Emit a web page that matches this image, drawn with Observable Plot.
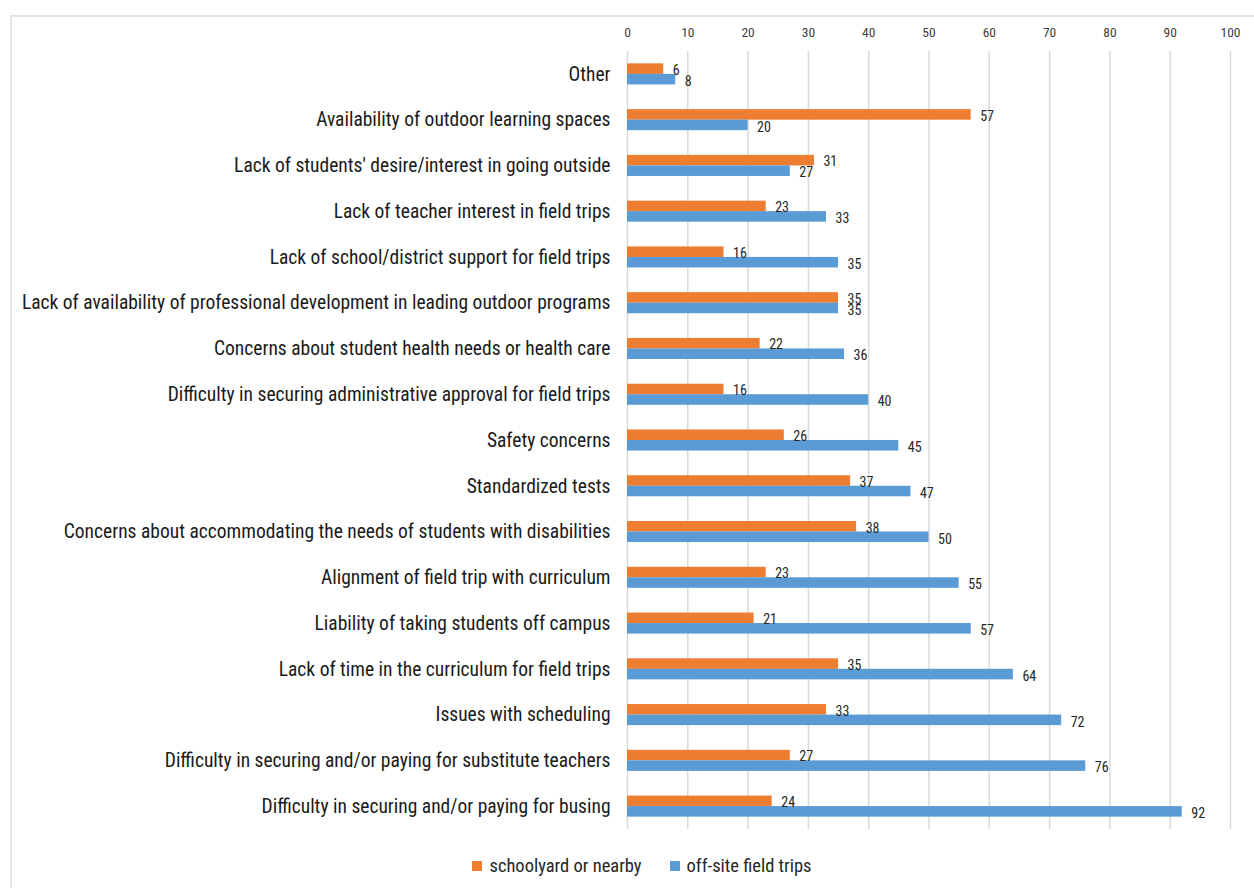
<!DOCTYPE html>
<html>
<head>
<meta charset="utf-8">
<script src="https://cdn.jsdelivr.net/npm/d3@7"></script>
<script src="https://cdn.jsdelivr.net/npm/@observablehq/plot@0.6"></script>
<style>
  html, body { margin: 0; padding: 0; background: #fff; width: 1254px; height: 888px; overflow: hidden; }
  #frame { position: absolute; left: 10px; top: 15px; width: 1300px; height: 900px; border: 2px solid #e3e3e3; box-sizing: border-box; }
  #chart { position: absolute; left: 0; top: 0; }
  #legend { position: absolute; left: 0; top: 855px; width: 1254px; display: flex; justify-content: center; gap: 28px;
            font-family: "Liberation Sans Narrow", "Roboto Condensed", "Liberation Sans", sans-serif; font-size: 18.5px; color: #262626; padding-left: 30px; box-sizing: border-box; }
  .item { display: flex; align-items: center; gap: 7px; }
  .sw { width: 10px; height: 10px; display: inline-block; }
</style>
</head>
<body>
<div id="frame"></div>
<div id="chart"></div>
<div id="legend"></div>
<script>
const categories = [
  "Other",
  "Availability of outdoor learning spaces",
  "Lack of students' desire/interest in going outside",
  "Lack of teacher interest in field trips",
  "Lack of school/district support for field trips",
  "Lack of availability of professional development in leading outdoor programs",
  "Concerns about student health needs or health care",
  "Difficulty in securing administrative approval for field trips",
  "Safety concerns",
  "Standardized tests",
  "Concerns about accommodating the needs of students with disabilities",
  "Alignment of field trip with curriculum",
  "Liability of taking students off campus",
  "Lack of time in the curriculum for field trips",
  "Issues with scheduling",
  "Difficulty in securing and/or paying for substitute teachers",
  "Difficulty in securing and/or paying for busing"
];
const schoolyard = [6, 57, 31, 23, 16, 35, 22, 16, 26, 37, 38, 23, 21, 35, 33, 27, 24];
const offsite    = [8, 20, 27, 33, 35, 35, 36, 40, 45, 47, 50, 55, 57, 64, 72, 76, 92];
const seriesNames = ["schoolyard or nearby", "off-site field trips"];
const colors = ["#ED7D31", "#5B9BD5"];
const xTicks = d3.range(0, 101, 10);

const orange = categories.map((c, i) => ({category: c, value: schoolyard[i]}));
const blue = categories.map((c, i) => ({category: c, value: offsite[i]}));

const font = '"Liberation Sans Narrow", "Roboto Condensed", "Liberation Sans", sans-serif';

const plot = Plot.plot({
  width: 1254,
  height: 840,
  marginLeft: 627,
  marginRight: 24,
  marginTop: 51,
  marginBottom: 11,
  style: {fontFamily: font, background: "transparent"},
  x: {domain: [0, 100]},
  y: {domain: categories, paddingInner: 0.54, paddingOuter: 0.27, round: false},
  marks: [
    Plot.gridX(xTicks, {stroke: "#d9d9d9", strokeOpacity: 1, strokeWidth: 1.5}),
    Plot.axisX(xTicks, {anchor: "top", tickSize: 0, tickPadding: 15, fontSize: 13.5, fill: "#404040", label: null}),
    Plot.axisY({tickSize: 0, tickPadding: 17, fontSize: 19.5, fill: "#1a1a1a", label: null}),
    Plot.barX(orange, {x: "value", y: "category", fill: colors[0], insetBottom: 10.5}),
    Plot.barX(blue, {x: "value", y: "category", fill: colors[1], insetTop: 10.5}),
    Plot.text(orange, {x: "value", y: "category", text: d => String(d.value), textAnchor: "start", dx: 9, dy: -4, fontSize: 14, fill: "#262626"}),
    Plot.text(blue, {x: "value", y: "category", text: d => String(d.value), textAnchor: "start", dx: 9, dy: 7, fontSize: 14, fill: "#262626"})
  ]
});
document.getElementById("chart").appendChild(plot);

const legend = document.getElementById("legend");
seriesNames.forEach((n, i) => {
  const it = document.createElement("div");
  it.className = "item";
  const sw = document.createElement("span");
  sw.className = "sw";
  sw.style.background = colors[i];
  const t = document.createElement("span");
  t.textContent = n;
  it.appendChild(sw);
  it.appendChild(t);
  legend.appendChild(it);
});
</script>
</body>
</html>
